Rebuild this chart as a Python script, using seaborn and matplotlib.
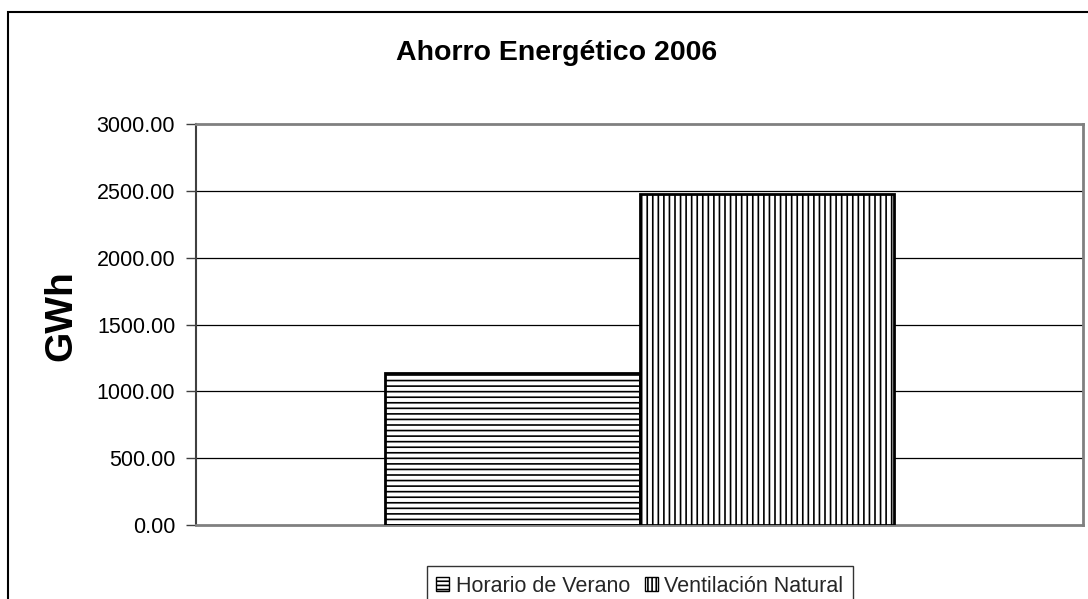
import matplotlib
matplotlib.use("Agg")
import matplotlib.pyplot as plt
from matplotlib.patches import Patch, Rectangle
import pandas as pd
import seaborn as sns

# Data
categories = ["2006"]
series = ["Horario de Verano", "Ventilación Natural"]
values = [1140.0, 2480.0]
hatches = ["---", "|||"]
yticks = [0, 500, 1000, 1500, 2000, 2500, 3000]

title = "Ahorro Energético 2006"
ylabel = "GWh"

sns.set_theme(style="white")
plt.rcParams["font.family"] = ["Liberation Sans", "DejaVu Sans"]
plt.rcParams["hatch.linewidth"] = 1.2
plt.rcParams["hatch.color"] = "black"

df = pd.DataFrame({
    "cat": [categories[0]] * len(series),
    "serie": series,
    "valor": values,
})

W, H = 1088, 599
fig = plt.figure(figsize=(W / 100, H / 100), dpi=100)
fig.patch.set_facecolor("white")

left, right, top, bottom = 196, 1083, 124, 525
ax = fig.add_axes([left / W, 1 - bottom / H, (right - left) / W, (bottom - top) / H])

sns.barplot(data=df, x="cat", y="valor", hue="serie", hue_order=series,
            palette=["white", "white"], edgecolor="black", linewidth=2.0,
            width=0.573, dodge=True, legend=False, ax=ax, errorbar=None)

for cont, h in zip(ax.containers, hatches):
    for p in cont.patches:
        p.set_hatch(h)
        p.set_zorder(3)

ax.set_xlim(-0.5, 0.5)
ax.set_ylim(0, 3000)
ax.set_yticks(yticks)
ax.set_yticklabels([f"{v:.2f}" for v in yticks], fontsize=15.5, color="black")
ax.set_xticks([])
ax.set_xlabel("")
ax.set_ylabel("")
ax.tick_params(axis="y", which="both", left=True, length=7, width=1.0,
               color="#404040", pad=8, direction="out")

for y in yticks[1:-1]:
    ax.axhline(y, color="black", linewidth=0.9, zorder=1)

for side in ["top", "right", "bottom"]:
    ax.spines[side].set_color("#808080")
    ax.spines[side].set_linewidth(2.0)
ax.spines["left"].set_color("#404040")
ax.spines["left"].set_linewidth(1.5)

# Chart area border
fig.patches.append(Rectangle((8 / W, -0.2), 1.2, 1.2 - 12 / H,
                             transform=fig.transFigure, fill=False,
                             edgecolor="black", linewidth=1.5, zorder=0))

fig.text(557 / W, 1 - 53 / H, title, ha="center", va="center",
         fontsize=20.5, fontweight="bold", color="black")
fig.text(61 / W, 1 - 316 / H, ylabel, ha="center", va="center", rotation=90,
         fontsize=28, fontweight="bold", color="black")

handles = [Patch(facecolor="white", edgecolor="black", hatch=h, linewidth=1.0,
                 label=s) for s, h in zip(series, ["----", "||||"])]
leg = fig.legend(handles=handles, loc="upper center",
                 bbox_to_anchor=(640 / W, 1 - 566 / H), ncol=2,
                 fontsize=15.5, frameon=True, fancybox=False,
                 handlelength=0.6, handleheight=0.6, handletextpad=0.3,
                 columnspacing=0.7, borderpad=0.45, borderaxespad=0)
leg.get_frame().set_edgecolor("black")
leg.get_frame().set_linewidth(1.0)

fig.savefig("out.png", dpi=100, facecolor="white")
